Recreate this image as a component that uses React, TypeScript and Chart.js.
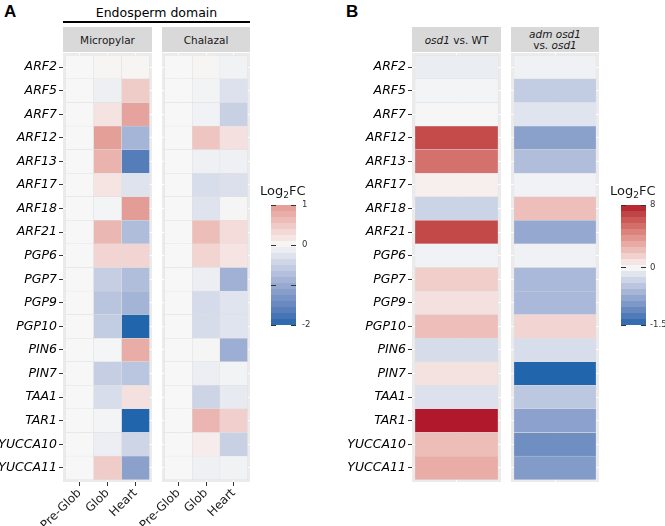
import React, { useEffect, useRef } from 'react';
import { Chart, registerables } from 'chart.js';

Chart.register(...registerables);
Chart.defaults.font.family = "'DejaVu Sans', sans-serif";
Chart.defaults.color = '#1a1a1a';

// ---------------- DATA ----------------
const genes = ['ARF2', 'ARF5', 'ARF7', 'ARF12', 'ARF13', 'ARF17', 'ARF18', 'ARF21', 'PGP6', 'PGP7', 'PGP9', 'PGP10', 'PIN6', 'PIN7', 'TAA1', 'TAR1', 'YUCCA10', 'YUCCA11'];
const stages = ['Pre-Glob', 'Glob', 'Heart'];

const micropylarPreGlob = [0, 0, 0, 0, 0, 0, 0, 0, 0, 0, 0, 0, 0, 0, 0, 0, 0, 0];
const micropylarGlob = [0.03, -0.1, 0.21, 0.94, 0.72, 0.2, -0.04, 0.68, 0.36, -0.53, -0.66, -0.56, -0.03, -0.53, -0.34, -0.04, -0.12, 0.46];
const micropylarHeart = [0.03, 0.46, 0.89, -0.87, -1.65, -0.26, 0.97, -0.76, 0.36, -0.75, -0.88, -2.0, 0.79, -0.65, 0.24, -2.0, -0.44, -1.14];

const chalazalPreGlob = [0, 0, 0, 0, 0, 0, 0, 0, 0, 0, 0, 0, 0, 0, 0, 0, 0, 0];
const chalazalGlob = [0.03, -0.05, -0.06, 0.53, -0.09, -0.34, -0.26, 0.62, 0.37, -0.12, -0.36, -0.35, -0.02, -0.12, -0.45, 0.69, 0.12, -0.09];
const chalazalHeart = [-0.07, -0.28, -0.5, 0.24, -0.09, -0.29, -0.02, 0.28, 0.2, -0.92, -0.25, -0.25, -0.96, -0.05, -0.16, 0.42, -0.5, -0.07];

const osd1VsWT = [-0.1, -0.03, -0.01, 6.6, 5.2, 0.3, -0.35, 6.7, -0.05, 1.6, 0.9, 2.2, -0.26, 0.8, -0.21, 8.0, 2.25, 2.9];
const admOsd1VsOsd1 = [-0.06, -0.42, -0.18, -0.86, -0.56, -0.05, 2.2, -0.78, -0.06, -0.61, -0.61, 1.3, -0.25, -1.5, -0.47, -0.85, -1.06, -0.92];

const legendBreaksA = [1, 0, -1, -2];
const legendLabelsA = ['1', '0', '', '-2'];
const legendBreaksB = [8, 0, -1.5];
const legendLabelsB = ['8', '0', '-1.5'];

// ---------------- COLOUR (Lab interpolation) ----------------
const LOW = '#2166AC';
const MID = '#F7F7F7';
const HIGH = '#B2182B';

function hexToRgb(h: string): number[] {
  const n = parseInt(h.slice(1), 16);
  return [(n >> 16) & 255, (n >> 8) & 255, n & 255];
}
const toLin = (c: number) => { c /= 255; return c <= 0.04045 ? c / 12.92 : Math.pow((c + 0.055) / 1.055, 2.4); };
const fromLin = (c: number) => {
  const v = c <= 0.0031308 ? 12.92 * c : 1.055 * Math.pow(c, 1 / 2.4) - 0.055;
  return Math.round(Math.max(0, Math.min(1, v)) * 255);
};
const XN = 0.95047, YN = 1, ZN = 1.08883;
function rgbToLab(rgb: number[]): number[] {
  const [R, G, B] = rgb.map(toLin);
  const X = (0.4124 * R + 0.3576 * G + 0.1805 * B) / XN;
  const Y = (0.2126 * R + 0.7152 * G + 0.0722 * B) / YN;
  const Z = (0.0193 * R + 0.1192 * G + 0.9505 * B) / ZN;
  const f = (t: number) => (t > 0.008856 ? Math.cbrt(t) : 7.787 * t + 16 / 116);
  const fx = f(X), fy = f(Y), fz = f(Z);
  return [116 * fy - 16, 500 * (fx - fy), 200 * (fy - fz)];
}
function labToHex(lab: number[]): string {
  const [L, a, b] = lab;
  const fy = (L + 16) / 116, fx = fy + a / 500, fz = fy - b / 200;
  const inv = (t: number) => (t > 0.206893 ? t * t * t : (t - 16 / 116) / 7.787);
  const X = inv(fx) * XN, Y = inv(fy) * YN, Z = inv(fz) * ZN;
  const R = 3.2406 * X - 1.5372 * Y - 0.4986 * Z;
  const G = -0.9689 * X + 1.8758 * Y + 0.0415 * Z;
  const B = 0.0557 * X - 0.204 * Y + 1.057 * Z;
  return 'rgb(' + fromLin(R) + ',' + fromLin(G) + ',' + fromLin(B) + ')';
}
const labLow = rgbToLab(hexToRgb(LOW));
const labMid = rgbToLab(hexToRgb(MID));
const labHigh = rgbToLab(hexToRgb(HIGH));
function divColor(t: number): string {
  const tt = Math.max(-1, Math.min(1, t));
  const end = tt >= 0 ? labHigh : labLow;
  const k = Math.abs(tt);
  return labToHex(labMid.map((m, i) => m + (end[i] - m) * k));
}
const colorA = (v: number) => divColor(v >= 0 ? v * 0.457 : v / 2);
const colorB = (v: number) => divColor(v >= 0 ? v / 8 : v / 1.5);

// legend position mapping (0 = bottom, 1 = top)
const posA = (v: number) => (v + 2) / 3;
const invPosA = (p: number) => p * 3 - 2;
const ZB = 0.48;
const posB = (v: number) => (v < 0 ? (ZB * (v + 1.5)) / 1.5 : ZB + ((1 - ZB) * v) / 8);
const invPosB = (p: number) => (p < ZB ? -1.5 + (1.5 * p) / ZB : (8 * (p - ZB)) / (1 - ZB));

// ---------------- CHART CONFIGS ----------------
const panelBg = {
  id: 'panelBg',
  beforeDraw(chart: any) {
    const { ctx, chartArea: a } = chart;
    ctx.save();
    ctx.fillStyle = '#EBEBEB';
    ctx.fillRect(a.left, a.top, a.right - a.left, a.bottom - a.top);
    ctx.restore();
  },
};

const zeroPad = (s: any) => {
  s.paddingLeft = 0; s.paddingRight = 0; s.paddingTop = 0; s.paddingBottom = 0;
};

interface HeatOpts {
  cols: number[][];
  colLabels: string[];
  colorFn: (v: number) => string;
  showY: boolean;
  showX: boolean;
  yWidth: number;
  xHeight: number;
  xPad: number;
}

function heatConfig(o: HeatOpts): any {
  const datasets = o.cols.map((vals, c) => ({
    data: vals.map((v, i) => ({ x: [c - 0.5, c + 0.5], y: i })),
    backgroundColor: vals.map(o.colorFn),
    borderColor: 'rgba(222,222,222,0.8)',
    borderWidth: 0.5,
    borderSkipped: false,
    barPercentage: 1,
    categoryPercentage: 1,
    grouped: false,
  }));
  const n = o.cols.length;
  return {
    type: 'bar',
    data: { datasets },
    plugins: [panelBg],
    options: {
      indexAxis: 'y',
      responsive: false,
      animation: false,
      devicePixelRatio: 1,
      events: [],
      layout: { padding: { top: 10, right: 20, left: 0, bottom: 0 } },
      plugins: { legend: { display: false }, tooltip: { enabled: false } },
      scales: {
        x: {
          type: 'linear',
          offset: false,
          min: -0.5 - o.xPad,
          max: n - 0.5 + o.xPad,
          afterBuildTicks: (s: any) => { s.ticks = o.colLabels.map((_, i) => ({ value: i })); },
          afterFit: (s: any) => { s.height = o.xHeight; zeroPad(s); },
          ticks: {
            display: o.showX,
            autoSkip: false,
            minRotation: 45,
            maxRotation: 45,
            padding: 0,
            color: '#1a1a1a',
            font: { size: 12 },
            callback: (_v: any, i: number) => o.colLabels[i],
          },
          grid: { offset: false, color: '#FFFFFF', lineWidth: 1, drawTicks: o.showX, tickColor: '#333333', tickLength: 4 },
          border: { display: false },
        },
        y: {
          type: 'linear',
          offset: false,
          reverse: true,
          min: -0.6,
          max: genes.length - 0.4,
          afterBuildTicks: (s: any) => { s.ticks = genes.map((_, i) => ({ value: i })); },
          afterFit: (s: any) => { s.width = o.yWidth; zeroPad(s); },
          ticks: {
            display: o.showY,
            autoSkip: false,
            padding: 2,
            color: '#000000',
            font: { size: 12.5, style: 'italic' },
            callback: (_v: any, i: number) => genes[i],
          },
          grid: { offset: false, color: '#FFFFFF', lineWidth: 1, drawTicks: o.showY, tickColor: '#333333', tickLength: 4 },
          border: { display: false },
        },
      },
    },
  };
}

interface BarOpts {
  breaks: number[];
  labels: string[];
  pos: (v: number) => number;
  invPos: (p: number) => number;
  colorFn: (v: number) => string;
  yWidth: number;
  labelPad: number;
}

const colorbarTicks = {
  id: 'colorbarTicks',
  afterDatasetsDraw(chart: any, _args: any, opts: any) {
    const { ctx, chartArea: a, scales } = chart;
    ctx.save();
    ctx.strokeStyle = '#333333';
    ctx.lineWidth = 1;
    (opts.values as number[]).forEach((p) => {
      const y = Math.round(scales.y.getPixelForValue(p)) + 0.5;
      ctx.beginPath();
      ctx.moveTo(a.left, y); ctx.lineTo(a.left + 5, y);
      ctx.moveTo(a.right - 5, y); ctx.lineTo(a.right, y);
      ctx.stroke();
    });
    ctx.restore();
  },
};

function colorbarConfig(o: BarOpts): any {
  const nb = 20;
  return {
    type: 'bar',
    data: {
      labels: ['bar'],
      datasets: [{
        data: [[0, 1]],
        borderWidth: 0,
        barPercentage: 1,
        categoryPercentage: 1,
        backgroundColor: (ctx: any) => {
          const chart = ctx.chart;
          const a = chart.chartArea;
          if (!a) return MID;
          const g = chart.ctx.createLinearGradient(0, a.bottom, 0, a.top);
          for (let k = 0; k < nb; k++) {
            const p0 = k / nb, p1 = (k + 1) / nb;
            const c = o.colorFn(o.invPos((p0 + p1) / 2));
            g.addColorStop(p0, c);
            g.addColorStop(p1, c);
          }
          return g;
        },
      }],
    },
    plugins: [colorbarTicks],
    options: {
      responsive: false,
      animation: false,
      devicePixelRatio: 1,
      events: [],
      layout: { padding: { top: 10, bottom: 10, left: 10, right: 0 } },
      plugins: {
        legend: { display: false },
        tooltip: { enabled: false },
        colorbarTicks: { values: o.breaks.map(o.pos) },
      },
      scales: {
        x: { type: 'category', display: false, offset: true },
        y: {
          type: 'linear',
          position: 'right',
          offset: false,
          min: 0,
          max: 1,
          afterBuildTicks: (s: any) => { s.ticks = o.breaks.map((b) => ({ value: o.pos(b) })); },
          afterFit: (s: any) => { s.width = o.yWidth; zeroPad(s); },
          ticks: {
            autoSkip: false,
            padding: o.labelPad,
            color: '#333333',
            font: { size: 8.5 },
            callback: (_v: any, i: number) => o.labels[i],
          },
          grid: { display: false, drawTicks: false },
          border: { display: false },
        },
      },
    },
  };
}

// ---------------- COMPONENTS ----------------
function ChartBox(props: { left: number; top: number; width: number; height: number; make: () => any }) {
  const ref = useRef<HTMLCanvasElement>(null);
  useEffect(() => {
    const chart = new Chart(ref.current as HTMLCanvasElement, props.make());
    return () => chart.destroy();
  }, []);
  return (
    <canvas
      ref={ref}
      width={props.width}
      height={props.height}
      style={{ position: 'absolute', left: props.left, top: props.top, width: props.width, height: props.height }}
    />
  );
}

const CANVAS_TOP = 43;
const CANVAS_H = 483;
const X_H = 44;

function Strip(props: { left: number; width: number; children: any; lineHeight?: number }) {
  return (
    <div
      style={{
        position: 'absolute', left: props.left, top: 27, width: props.width, height: 25,
        background: '#D9D9D9', color: '#1a1a1a', fontSize: 10.5, lineHeight: (props.lineHeight || 12) + 'px',
        display: 'flex', alignItems: 'center', justifyContent: 'center', textAlign: 'center',
      }}
    >
      <div>{props.children}</div>
    </div>
  );
}

function LegendTitle(props: { left: number }) {
  return (
    <div style={{ position: 'absolute', left: props.left, top: 184, fontSize: 13, lineHeight: '13px', color: '#1a1a1a', whiteSpace: 'nowrap' }}>
      Log<span style={{ fontSize: 9, position: 'relative', top: 3 }}>2</span>FC
    </div>
  );
}

export default function App() {
  return (
    <div
      style={{
        position: 'absolute', left: 0, top: 0, width: 665, height: 526, overflow: 'hidden',
        background: '#FFFFFF', fontFamily: "'DejaVu Sans', sans-serif",
      }}
    >
      {/* Panel labels */}
      <div style={{ position: 'absolute', left: 4, top: 3, fontFamily: "'Liberation Sans', Arial, sans-serif", fontWeight: 'bold', fontSize: 17, lineHeight: '17px' }}>A</div>
      <div style={{ position: 'absolute', left: 346, top: 3, fontFamily: "'Liberation Sans', Arial, sans-serif", fontWeight: 'bold', fontSize: 17, lineHeight: '17px' }}>B</div>

      {/* Endosperm domain header */}
      <div style={{ position: 'absolute', left: 63, width: 187, top: 6, fontSize: 12.5, lineHeight: '14px', textAlign: 'center', color: '#000' }}>Endosperm domain</div>
      <div style={{ position: 'absolute', left: 63, width: 187, top: 21, height: 2, background: '#000' }} />

      {/* Strips */}
      <Strip left={63} width={89}>Micropylar</Strip>
      <Strip left={162} width={88}>Chalazal</Strip>
      <Strip left={412} width={89}><i>osd1</i> vs. WT</Strip>
      <Strip left={511} width={88} lineHeight={11}><i>adm osd1</i><br />vs. <i>osd1</i></Strip>

      {/* Heatmap facets */}
      <ChartBox left={0} top={CANVAS_TOP} width={172} height={CANVAS_H}
        make={() => heatConfig({ cols: [micropylarPreGlob, micropylarGlob, micropylarHeart], colLabels: stages, colorFn: colorA, showY: true, showX: true, yWidth: 63, xHeight: X_H, xPad: 0.09 })} />
      <ChartBox left={0} top={CANVAS_TOP} width={270} height={CANVAS_H}
        make={() => heatConfig({ cols: [chalazalPreGlob, chalazalGlob, chalazalHeart], colLabels: stages, colorFn: colorA, showY: false, showX: true, yWidth: 162, xHeight: X_H, xPad: 0.09 })} />
      <ChartBox left={0} top={CANVAS_TOP} width={521} height={CANVAS_H}
        make={() => heatConfig({ cols: [osd1VsWT], colLabels: [''], colorFn: colorB, showY: true, showX: false, yWidth: 412, xHeight: X_H, xPad: 0.036 })} />
      <ChartBox left={0} top={CANVAS_TOP} width={619} height={CANVAS_H}
        make={() => heatConfig({ cols: [admOsd1VsOsd1], colLabels: [''], colorFn: colorB, showY: false, showX: false, yWidth: 511, xHeight: X_H, xPad: 0.036 })} />

      {/* Legends */}
      <LegendTitle left={260} />
      <ChartBox left={261} top={195} width={70} height={140}
        make={() => colorbarConfig({ breaks: legendBreaksA, labels: legendLabelsA, pos: posA, invPos: invPosA, colorFn: colorA, yWidth: 35, labelPad: 6 })} />
      <LegendTitle left={610} />
      <ChartBox left={611} top={195} width={54} height={140}
        make={() => colorbarConfig({ breaks: legendBreaksB, labels: legendLabelsB, pos: posB, invPos: invPosB, colorFn: colorB, yWidth: 19, labelPad: 4 })} />
    </div>
  );
}
